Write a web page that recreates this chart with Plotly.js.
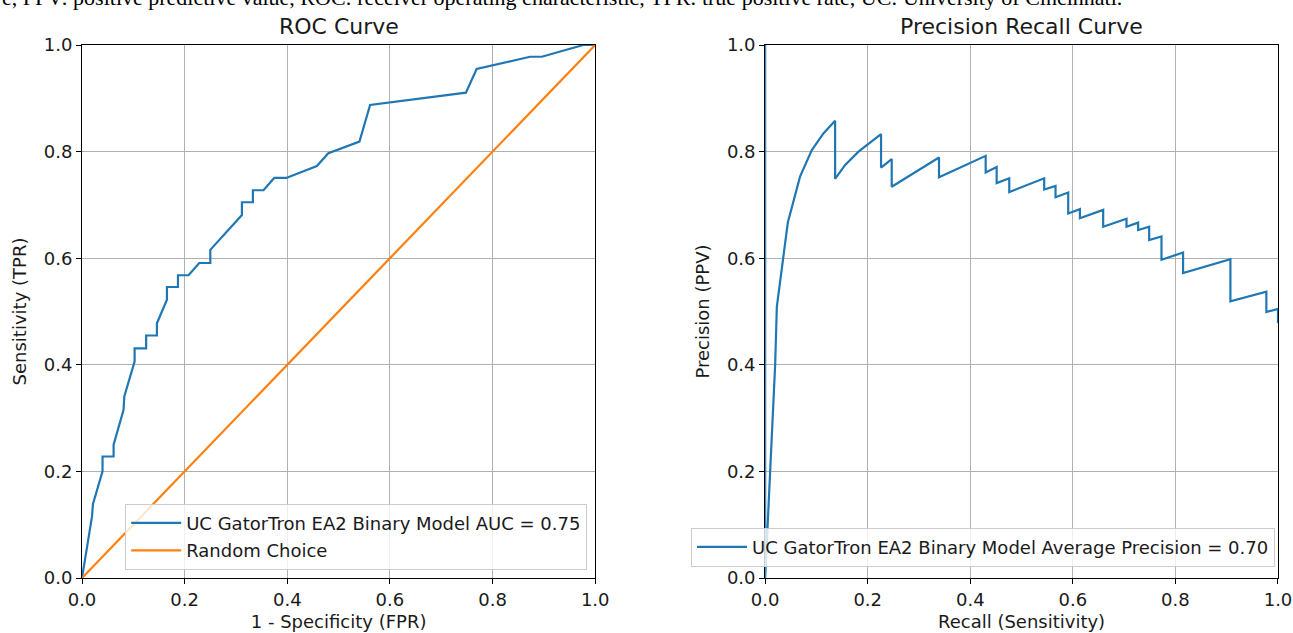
<!DOCTYPE html>
<html>
<head>
<meta charset="utf-8">
<script src="https://cdn.plot.ly/plotly-3.0.1.min.js"></script>
<style>
html,body{margin:0;padding:0;background:#fff;}
#chart{width:1293px;height:633px;}
</style>
</head>
<body>
<div id="chart"></div>
<script>
// ROC curve data
const rocFpr = [0, 0.0195, 0.0214, 0.040, 0.040, 0.0616, 0.0616, 0.081, 0.0824, 0.1025, 0.1025, 0.125, 0.125, 0.146, 0.146, 0.1655, 0.1655, 0.187, 0.187, 0.2077, 0.2284, 0.25, 0.25, 0.3116, 0.3116, 0.333, 0.333, 0.3537, 0.3745, 0.398, 0.4577, 0.480, 0.5406, 0.5614, 0.748, 0.769, 0.873, 0.896, 0.977, 1.0];
const rocTpr = [0, 0.1155, 0.139, 0.2, 0.228, 0.228, 0.25, 0.3156, 0.3406, 0.406, 0.431, 0.431, 0.455, 0.455, 0.478, 0.522, 0.546, 0.546, 0.568, 0.568, 0.591, 0.591, 0.6157, 0.681, 0.705, 0.705, 0.7275, 0.7275, 0.7506, 0.7506, 0.773, 0.797, 0.8187, 0.8875, 0.9106, 0.955, 0.978, 0.978, 1.0, 1.0];
const randomX = [0, 1];
const randomY = [0, 1];

// Precision-recall curve data
const prRecall = [0, 0, 0.0195, 0.0228, 0.0442, 0.068, 0.091, 0.1136, 0.1364, 0.1364, 0.156, 0.182, 0.226, 0.226, 0.2468, 0.2468, 0.339, 0.339, 0.430, 0.430, 0.4514, 0.4514, 0.476, 0.476, 0.5441, 0.5441, 0.5662, 0.5662, 0.5909, 0.5909, 0.6137, 0.6137, 0.6591, 0.6591, 0.7046, 0.7046, 0.7273, 0.7273, 0.7488, 0.7488, 0.7728, 0.7728, 0.8149, 0.8149, 0.9072, 0.9072, 0.9773, 0.9773, 1.0, 1.0];
const prPrecision = [1, 0, 0.40, 0.509, 0.667, 0.753, 0.803, 0.834, 0.858, 0.749, 0.775, 0.80, 0.833, 0.770, 0.786, 0.734, 0.789, 0.752, 0.792, 0.761, 0.771, 0.741, 0.750, 0.724, 0.750, 0.729, 0.7356, 0.7144, 0.7231, 0.684, 0.692, 0.675, 0.6906, 0.659, 0.674, 0.659, 0.6668, 0.653, 0.659, 0.634, 0.6406, 0.597, 0.6106, 0.572, 0.598, 0.519, 0.537, 0.499, 0.505, 0.478];

const tickVals = [0, 0.2, 0.4, 0.6, 0.8, 1.0];
const tickText = ["0.0", "0.2", "0.4", "0.6", "0.8", "1.0"];

const titles = ["ROC Curve", "Precision Recall Curve"];
const caption = "e, PPV: positive predictive value, ROC: receiver operating characteristic, TPR: true positive rate, UC: University of Cincinnati.";

const BLUE = "#1f77b4", ORANGE = "#ff7f0e";
const FONT = "DejaVu Sans";

const traces = [
  {x: rocFpr, y: rocTpr, type: "scatter", mode: "lines", name: "UC GatorTron EA2 Binary Model AUC = 0.75",
   line: {color: BLUE, width: 2.2}, xaxis: "x", yaxis: "y", legend: "legend", legendgroup: "a"},
  {x: randomX, y: randomY, type: "scatter", mode: "lines", name: "Random Choice",
   line: {color: ORANGE, width: 2.2}, xaxis: "x", yaxis: "y", legend: "legend", legendgroup: "b"},
  {x: prRecall, y: prPrecision, type: "scatter", mode: "lines", name: "UC GatorTron EA2 Binary Model Average Precision = 0.70",
   line: {color: BLUE, width: 2.2}, xaxis: "x2", yaxis: "y2", legend: "legend2"}
];

function axis(domain, title, anchor, isY) {
  return {
    domain: domain, range: [0, 1], anchor: anchor,
    tickvals: tickVals, ticktext: tickText,
    ticks: "outside", ticklen: 5, tickwidth: 1, tickcolor: "#000",
    showline: true, linecolor: "#000", linewidth: 1, mirror: true,
    showgrid: true, gridcolor: "#b0b0b0", gridwidth: 1,
    zeroline: false, fixedrange: true,
    tickfont: {family: FONT, size: 18, color: "#1a1a1a"},
    title: {text: title, font: {family: FONT, size: 18, color: "#1a1a1a"}, standoff: isY ? 12 : 6},
    automargin: false
  };
}

const legendCommon = {
  bgcolor: "rgba(255,255,255,0.8)", bordercolor: "#cccccc", borderwidth: 1,
  font: {family: FONT, size: 18, color: "#1a1a1a"},
  xanchor: "right", yanchor: "bottom", tracegroupgap: 1, itemwidth: 50
};

const layout = {
  width: 1293, height: 633,
  margin: {l: 81.7, r: 15, t: 45, b: 54.7},
  paper_bgcolor: "#fff", plot_bgcolor: "#fff",
  font: {family: FONT, color: "#1a1a1a"},
  xaxis: axis([0, 0.4291], "1 - Specificity (FPR)", "y", false),
  yaxis: axis([0, 1], "Sensitivity (TPR)", "x", true),
  xaxis2: axis([0.5712, 1], "Recall (Sensitivity)", "y2", false),
  yaxis2: axis([0, 1], "Precision (PPV)", "x2", true),
  legend: Object.assign({x: 0.4224, y: 0.0156}, legendCommon),
  legend2: Object.assign({x: 0.9975, y: 0.0212}, legendCommon),
  annotations: [
    {text: titles[0], xref: "paper", yref: "paper", x: 0.2145, y: 1, xanchor: "center", yanchor: "bottom",
     yshift: 4, showarrow: false, font: {family: FONT, size: 22, color: "#1a1a1a"}},
    {text: titles[1], xref: "paper", yref: "paper", x: 0.7856, y: 1, xanchor: "center", yanchor: "bottom",
     yshift: 4, showarrow: false, font: {family: FONT, size: 22, color: "#1a1a1a"}},
    {text: caption, xref: "paper", yref: "paper", x: -0.0683, y: 1, xanchor: "left", yanchor: "middle",
     yshift: 48, showarrow: false, font: {family: "Liberation Serif", size: 22, color: "#000"}}
  ],
  showlegend: true
};

Plotly.newPlot("chart", traces, layout, {displayModeBar: false, staticPlot: true});
</script>
</body>
</html>
